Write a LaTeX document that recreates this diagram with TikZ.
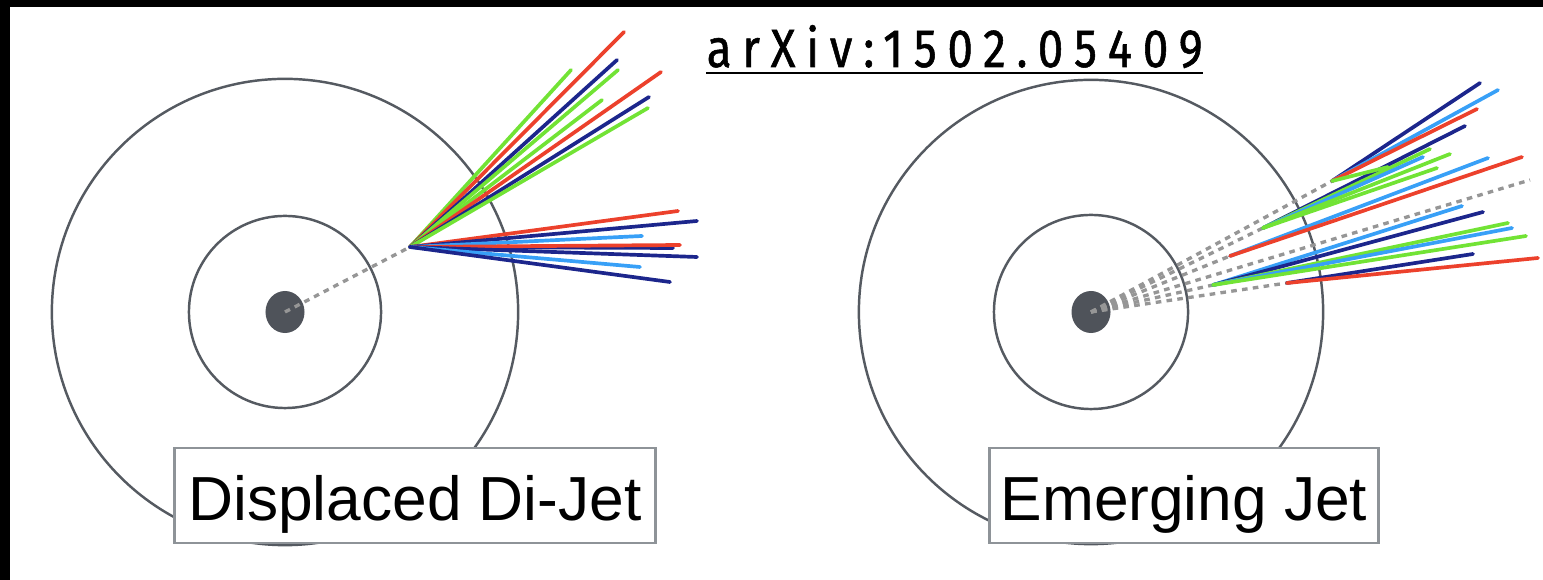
\documentclass[tikz,border=0pt]{standalone}
\usepackage{fontspec}
\setmainfont{Liberation Sans}
\newfontfamily\arxivfont[FakeStretch=0.85,LetterSpace=20,FakeBold=1]{Fira Sans}
\usetikzlibrary{shapes.geometric}

\definecolor{ringgray}{HTML}{555A61}
\definecolor{ipgray}{HTML}{4F535A}
\definecolor{ghostgray}{HTML}{969696}
\definecolor{tagframe}{HTML}{8E9398}
\definecolor{jred}{HTML}{EC412C}
\definecolor{jgreen}{HTML}{72E335}
\definecolor{jdark}{HTML}{1C268C}
\definecolor{jlight}{HTML}{38A0F7}

\begin{document}
\begin{tikzpicture}[x=0.01cm,y=-0.01cm,
    ring/.style={draw=ringgray,line width=0.7pt},
    ip/.style={ellipse,fill=ipgray,minimum width=0.39cm,minimum height=0.42cm,inner sep=0pt},
    track/.style={line width=1.05pt,line cap=round},
    ghost/.style={draw=ghostgray,line width=0.95pt,dash pattern=on 1.6pt off 1.5pt},
    tag/.style={draw=tagframe,fill=white,line width=0.8pt,inner sep=0pt,
      text height=0.72cm,text depth=0.23cm,font=\fontsize{17.7}{20}\selectfont}]
    \useasboundingbox (0,0) rectangle (1543,580);
    \fill[black] (0,0) rectangle (1543,7);
    \fill[black] (0,0) rectangle (10,580);

    % displaced di-jet
    \node[ip] (ipL) at (285,312) {};
    \draw[ring] (ipL.center) circle[radius=2.33cm];
    \draw[ring] (ipL.center) circle[radius=0.96cm];
    \coordinate (dvL) at (410,247);
    \draw[ghost] (ipL.center) -- (dvL);
    \foreach \c/\x/\y in {jgreen/571/70, jred/624/32, jdark/617/60, jgreen/618/70,
        jgreen/602/100, jred/661/72, jdark/649/97, jgreen/648/108,
        jred/678/211, jdark/697/221, jlight/642/236, jdark/673/248,
        jred/680/245, jdark/697/257, jlight/640/267, jdark/670/282} {
      \coordinate (end) at (\x,\y);
      \draw[track,\c] (dvL) -- (end);
    }
    \node[tag,minimum width=4.80cm] (tagL) at (415,495.5) {Displaced Di-Jet};

    % emerging jet
    \node[ip] (ipR) at (1091,312) {};
    \draw[ring] (ipR.center) circle[radius=2.32cm];
    \draw[ring] (ipR.center) circle[radius=0.97cm];
    \coordinate (dvA) at (1332,181);
    \coordinate (dvB) at (1263,228);
    \coordinate (dvC) at (1230,256);
    \coordinate (dvD) at (1213,285);
    \coordinate (dvE) at (1287,283);
    \coordinate (farR) at (1530,180);
    \foreach \v in {dvA,dvB,dvC,dvD,dvE,farR}
      \draw[ghost] (ipR.center) -- (\v);
    \foreach \v/\c/\x/\y in {dvA/jdark/1480/83, dvA/jlight/1498/90, dvA/jred/1477/109,
        dvB/jdark/1465/126, dvB/jgreen/1430/149, dvB/jlight/1423/157,
        dvB/jgreen/1450/154, dvB/jgreen/1437/168, dvA/jgreen/1388/167,
        dvC/jlight/1488/158, dvC/jred/1522/157,
        dvD/jlight/1462/206, dvD/jdark/1483/212, dvD/jgreen/1508/223,
        dvD/jlight/1512/228, dvD/jgreen/1526/236,
        dvE/jdark/1473/254, dvE/jred/1538/258} {
      \coordinate (end) at (\x,\y);
      \draw[track,\c] (\v) -- (end);
    }
    \node[tag,minimum width=3.88cm] (tagR) at (1184,495.5) {Emerging Jet};

    % reference
    \node[anchor=base west,inner sep=0pt,font=\arxivfont\fontsize{15.3}{18}\selectfont]
      (arxiv) at (706,67) {arXiv:1502.05409};
    \draw[line width=0.8pt] ([yshift=-1.7pt]arxiv.base west) -- ([yshift=-1.7pt]arxiv.base east);
\end{tikzpicture}
\end{document}
